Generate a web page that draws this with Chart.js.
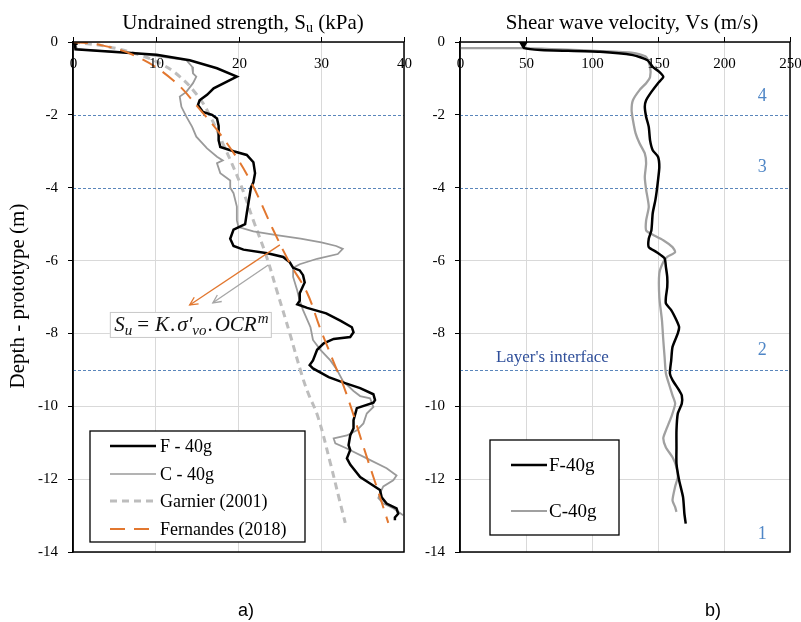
<!DOCTYPE html>
<html><head><meta charset="utf-8">
<script src="https://cdn.jsdelivr.net/npm/chart.js@4.4.1/dist/chart.umd.min.js"></script>
<style>
html,body{margin:0;padding:0;background:#fff;width:801px;height:622px;overflow:hidden;}
canvas{position:absolute;top:0;}
#c1{left:0;}
#c2{left:412px;}
</style></head><body>
<canvas id="c1" width="412" height="622"></canvas>
<canvas id="c2" width="389" height="622"></canvas>
<script>
// ---------- DATA ----------
const depthTicks = [0, -2, -4, -6, -8, -10, -12, -14];
const suTicks = [0, 10, 20, 30, 40];
const vsTicks = [0, 50, 100, 150, 200, 250];
const interfaceDepths = [-2, -4, -9];
const layerNames = ['4', '3', '2', '1'];

// Undrained strength (kPa) vs depth (m)
const suF = [0.2,0.3,10.1,14.1,17.4,19.8,17.0,16.2,15.3,15.1,15.7,16.8,17.4,17.6,17.6,17.8,19.4,21.0,21.8,22.0,21.8,21.5,21.0,20.8,19.4,19.0,19.4,20.6,23.5,25.4,26.2,26.6,27.4,27.8,28.0,27.8,27.4,27.4,27.1,28.3,30.6,32.3,33.7,33.9,33.5,31.5,30.3,29.5,29.0,28.6,29.0,30.9,32.7,34.7,36.3,36.5,36.3,34.3,33.9,33.9,33.5,33.3,33.5,33.1,33.5,34.7,35.9,37.1,37.3,37.9,39.1,39.3,38.9,38.9];
const suFDepth = [0,-0.2,-0.35,-0.5,-0.72,-0.95,-1.27,-1.45,-1.6,-1.73,-1.92,-2.0,-2.1,-2.3,-2.7,-2.88,-3.0,-3.1,-3.3,-3.6,-3.85,-4.0,-4.7,-5.0,-5.15,-5.4,-5.6,-5.7,-5.8,-5.9,-6.05,-6.2,-6.27,-6.4,-6.6,-6.7,-6.9,-7.1,-7.2,-7.3,-7.45,-7.65,-7.83,-7.97,-8.1,-8.15,-8.27,-8.45,-8.74,-8.87,-8.96,-9.2,-9.35,-9.5,-9.67,-9.83,-9.9,-10.05,-10.38,-10.6,-10.8,-11.07,-11.2,-11.43,-11.6,-11.94,-12.12,-12.3,-12.5,-12.67,-12.8,-12.95,-13.05,-13.13];

const suC = [0.2,0.5,7.3,13.7,14.4,14.5,14.9,14.5,13.7,12.9,13.1,13.7,14.4,14.9,16.2,17.4,18.1,17.4,17.8,19.0,19.0,19.4,19.8,19.8,20.0,21.8,24.6,27.5,30.0,31.8,32.6,32.0,29.5,27.4,26.6,26.6,27.1,27.4,27.8,28.7,29.0,29.9,31.1,31.9,32.6,33.9,34.7,35.9,36.3,35.5,35.1,34.3,33.1,31.5,31.7,33.1,35.5,37.9,39.1,38.7,37.5,37.1,36.9,37.5,38.7,39.9];
const suCDepth = [0,-0.2,-0.3,-0.5,-0.68,-0.86,-0.95,-1.13,-1.37,-1.5,-1.78,-2.05,-2.33,-2.6,-2.92,-3.15,-3.25,-3.33,-3.6,-3.8,-4.0,-4.15,-4.52,-4.9,-5.08,-5.2,-5.3,-5.4,-5.5,-5.6,-5.68,-5.82,-5.95,-6.1,-6.2,-6.45,-6.82,-7.1,-7.36,-7.83,-8.18,-8.45,-8.74,-9.0,-9.3,-9.58,-9.72,-9.78,-10.02,-10.2,-10.47,-10.66,-10.8,-10.88,-11.02,-11.16,-11.43,-11.7,-11.9,-12.03,-12.2,-12.38,-12.52,-12.67,-12.8,-12.99];

const suGarnier = [0,4.0,8.1,10.8,12.9,14.8,16.2,18.1,20.2,21.8,23.4,24.6,26.2,27.6,28.4,29.6,31.1,32.2,32.9];
const suGarnierDepth = [0,-0.12,-0.36,-0.62,-0.95,-1.4,-1.87,-2.78,-3.88,-4.9,-5.9,-6.8,-8.0,-9.1,-9.63,-10.29,-11.56,-12.57,-13.2];

const suFernandes = [0,3.3,7.7,12.1,15.4,18.6,21.4,24.2,26.2,28.3,29.8,31.4,33.0,35.5,37.1,38.1];
const suFernandesDepth = [0,-0.08,-0.4,-1.05,-1.87,-2.78,-3.8,-5.16,-6.07,-6.89,-7.82,-8.73,-9.63,-11.39,-12.49,-13.2];

// Shear wave velocity (m/s) vs depth (m)
const vsF = [48,49,61,106,131,142,146,151,154,150,145,141,140,141,143,144,146,150,151,150,149,148,146,145,143,143,149,155,156,157,157,156,156,160,164,166,165,161,160,159,161,166,168,168,165,164,164,164,166,169,170,171];
const vsFDepth = [-0.03,-0.17,-0.22,-0.27,-0.36,-0.5,-0.68,-0.82,-0.96,-1.13,-1.37,-1.6,-1.78,-2.05,-2.33,-2.7,-2.97,-3.15,-3.43,-3.8,-4.1,-4.34,-4.7,-5.17,-5.4,-5.63,-5.77,-5.94,-6.18,-6.45,-6.73,-7.0,-7.18,-7.36,-7.64,-7.83,-8.0,-8.37,-8.74,-9.1,-9.28,-9.56,-9.7,-9.93,-10.2,-10.66,-11.13,-11.57,-12.03,-12.5,-12.95,-13.22];

const vsC = [0,48,106,131,141,144,144,141,136,131,130,131,133,136,140,141,140,141,143,141,141,144,154,161,163,157,154,151,151,153,154,155,156,159,161,163,160,156,154,156,161,164,165,163,161,163,164];
const vsCDepth = [-0.17,-0.17,-0.25,-0.3,-0.41,-0.68,-0.96,-1.13,-1.32,-1.6,-1.87,-2.14,-2.5,-2.78,-3.06,-3.33,-3.71,-4.05,-4.52,-4.9,-5.17,-5.25,-5.44,-5.63,-5.77,-5.9,-6.04,-6.35,-7.0,-7.64,-8.18,-8.65,-9.1,-9.47,-9.7,-9.93,-10.3,-10.66,-10.88,-11.13,-11.4,-11.67,-11.94,-12.2,-12.58,-12.77,-12.9];

// ---------- STYLE / HELPERS ----------
const SERIF = '"Liberation Serif", "Times New Roman", serif';
const SANS = '"Liberation Sans", Arial, sans-serif';
const BLUE_DASH = '#5a86bb';
const COL_F = '#000000', COL_C = '#9a9a9a', COL_G = '#bdbdbd', COL_FE = '#e2772f';

const pts = (xs, ys) => xs.map((v, i) => ({x: v, y: ys[i]}));

function richText(ctx, parts, x, y, align) {
  let total = 0;
  parts.forEach(p => { ctx.font = p.font; total += ctx.measureText(p.t).width + (p.sp || 0); });
  let cx = align === 'center' ? x - total / 2 : x;
  ctx.textAlign = 'left';
  parts.forEach(p => {
    ctx.font = p.font;
    ctx.fillText(p.t, cx, y + (p.dy || 0));
    cx += ctx.measureText(p.t).width + (p.sp || 0);
  });
  return total;
}

function drawInterfaces(chart) {
  const {ctx, chartArea: a, scales: {y}} = chart;
  ctx.save();
  ctx.strokeStyle = BLUE_DASH; ctx.lineWidth = 1; ctx.setLineDash([3, 2]);
  interfaceDepths.forEach(d => {
    const py = Math.round(y.getPixelForValue(d)) + 0.5;
    ctx.beginPath(); ctx.moveTo(a.left, py); ctx.lineTo(a.right, py); ctx.stroke();
  });
  ctx.restore();
}

function drawFrameAndTopAxis(chart, ticks) {
  const {ctx, chartArea: a, scales: {x}} = chart;
  ctx.save();
  ctx.strokeStyle = '#000'; ctx.lineWidth = 1.5;
  ctx.strokeRect(a.left, a.top, a.right - a.left, a.bottom - a.top);
  ctx.lineWidth = 1;
  ctx.fillStyle = '#000';
  ctx.font = '15px ' + SERIF; ctx.textAlign = 'center'; ctx.textBaseline = 'alphabetic';
  ticks.forEach(v => {
    const px = Math.round(x.getPixelForValue(v)) + 0.5;
    ctx.beginPath(); ctx.moveTo(px, a.top); ctx.lineTo(px, a.top - 5); ctx.stroke();
    ctx.fillText(String(v), px, a.top + 26);
  });
  ctx.restore();
}

function legendBox(ctx, x0, y0, w, h, items, lineX0, lineX1, textX, fontSize) {
  ctx.save();
  ctx.fillStyle = '#fff'; ctx.fillRect(x0, y0, w, h);
  ctx.strokeStyle = '#000'; ctx.lineWidth = 1.3; ctx.strokeRect(x0, y0, w, h);
  items.forEach(it => {
    ctx.beginPath();
    ctx.strokeStyle = it.color; ctx.lineWidth = it.width; ctx.setLineDash(it.dash || []);
    ctx.moveTo(lineX0, it.y); ctx.lineTo(lineX1, it.y); ctx.stroke();
    ctx.setLineDash([]);
    ctx.fillStyle = '#000'; ctx.font = fontSize + 'px ' + SERIF;
    ctx.textAlign = 'left'; ctx.textBaseline = 'middle';
    ctx.fillText(it.label, textX, it.y + 1);
  });
  ctx.restore();
}

function arrow(ctx, x0, y0, x1, y1, color) {
  ctx.save();
  ctx.strokeStyle = color; ctx.lineWidth = 1.3;
  ctx.beginPath(); ctx.moveTo(x0, y0); ctx.lineTo(x1, y1); ctx.stroke();
  const ang = Math.atan2(y1 - y0, x1 - x0), L = 9, s = 0.45;
  ctx.beginPath();
  ctx.moveTo(x1 - L * Math.cos(ang - s), y1 - L * Math.sin(ang - s));
  ctx.lineTo(x1, y1);
  ctx.lineTo(x1 - L * Math.cos(ang + s), y1 - L * Math.sin(ang + s));
  ctx.stroke();
  ctx.restore();
}

function yScale(width) {
  return {
    type: 'linear', min: -14, max: 0,
    afterBuildTicks: s => { s.ticks = depthTicks.map(v => ({value: v})); },
    ticks: {font: {family: SERIF, size: 15}, color: '#000', padding: 10},
    grid: {
      color: c => (c.tick && (c.tick.value === -2 || c.tick.value === -4)) ? 'rgba(0,0,0,0)' : '#d9d9d9',
      tickColor: '#000', tickLength: 5, lineWidth: 1
    },
    border: {color: '#000', width: 1.5},
    afterFit: s => { s.width = width; }
  };
}
function xScale(max, ticks) {
  return {
    type: 'linear', position: 'top', min: 0, max: max,
    afterBuildTicks: s => { s.ticks = ticks.map(v => ({value: v})); },
    ticks: {display: false},
    grid: {color: '#d9d9d9', drawTicks: false, lineWidth: 1},
    border: {display: false},
    afterFit: s => { s.height = 0; }
  };
}

Chart.defaults.font.family = SERIF;
Chart.defaults.animation = false;

// ---------- LEFT CHART ----------
const leftDecor = {
  id: 'leftDecor',
  beforeDatasetsDraw(chart) { drawInterfaces(chart); },
  afterDatasetsDraw(chart) {
    const {ctx, scales: {x, y}} = chart;
    arrow(ctx, x.getPixelForValue(25.0), y.getPixelForValue(-5.57), x.getPixelForValue(14.1), y.getPixelForValue(-7.22), '#e2772f');
    arrow(ctx, x.getPixelForValue(23.6), y.getPixelForValue(-6.12), x.getPixelForValue(16.9), y.getPixelForValue(-7.16), '#a6a6a6');
    const bx = x.getPixelForValue(4.45), by = y.getPixelForValue(-7.41);
    const bw = 161, bh = 25;
    ctx.save();
    ctx.fillStyle = '#fff'; ctx.fillRect(bx, by, bw, bh);
    ctx.strokeStyle = '#c8c8c8'; ctx.lineWidth = 1; ctx.strokeRect(bx + 0.5, by + 0.5, bw, bh);
    ctx.fillStyle = '#111'; ctx.textBaseline = 'alphabetic';
    const I = 'italic 21px ' + SERIF, IS = 'italic 15px ' + SERIF, N = '21px ' + SERIF;
    richText(ctx, [
      {t: 'S', font: I}, {t: 'u', font: IS, dy: 4, sp: 5},
      {t: '=', font: N, sp: 6}, {t: 'K', font: I, sp: 1}, {t: '.', font: N, sp: 2},
      {t: 'σ′', font: I}, {t: 'vo', font: IS, dy: 4, sp: 1}, {t: '.', font: N, sp: 2},
      {t: 'OCR', font: I, sp: 1}, {t: 'm', font: IS, dy: -8}
    ], bx + bw / 2 + 1, by + 19, 'center');
    ctx.restore();
    legendBox(ctx, 90, 431, 215, 111, [
      {label: 'F - 40g', color: COL_F, width: 2.5, y: 446},
      {label: 'C - 40g', color: COL_C, width: 1.6, y: 474},
      {label: 'Garnier (2001)', color: COL_G, width: 3, dash: [7, 5], y: 501},
      {label: 'Fernandes (2018)', color: COL_FE, width: 2, dash: [15, 9], y: 529}
    ], 110, 156, 160, 18);
  },
  afterDraw(chart) {
    const {ctx} = chart;
    drawFrameAndTopAxis(chart, suTicks);
    ctx.save();
    ctx.fillStyle = '#000'; ctx.textBaseline = 'alphabetic';
    richText(ctx, [
      {t: 'Undrained strength, S', font: '21px ' + SERIF},
      {t: 'u', font: '14px ' + SERIF, dy: 3},
      {t: ' (kPa)', font: '21px ' + SERIF}
    ], 243, 29, 'center');
    ctx.font = '18px ' + SANS; ctx.textAlign = 'center';
    ctx.fillText('a)', 246, 616);
    ctx.translate(18, 296); ctx.rotate(-Math.PI / 2);
    ctx.font = '21px ' + SERIF; ctx.textAlign = 'center'; ctx.textBaseline = 'middle';
    ctx.fillText('Depth - prototype (m)', 0, 0);
    ctx.restore();
  }
};

new Chart(document.getElementById('c1'), {
  type: 'scatter',
  data: {
    datasets: [
      {label: 'Fernandes (2018)', data: pts(suFernandes, suFernandesDepth), showLine: true, borderColor: COL_FE, borderWidth: 2, borderDash: [15, 9], pointRadius: 0, tension: 0.4, order: 0},
      {label: 'F - 40g', data: pts(suF, suFDepth), showLine: true, borderColor: COL_F, borderWidth: 2.5, pointRadius: c => c.dataIndex === 0 ? 2.5 : 0, pointStyle: 'rect', pointBackgroundColor: '#000', pointBorderColor: '#000', tension: 0, order: 1},
      {label: 'C - 40g', data: pts(suC, suCDepth), showLine: true, borderColor: COL_C, borderWidth: 1.8, pointRadius: 0, tension: 0, order: 2},
      {label: 'Garnier (2001)', data: pts(suGarnier, suGarnierDepth), showLine: true, borderColor: COL_G, borderWidth: 3, borderDash: [7, 5], pointRadius: 0, tension: 0.4, order: 3}
    ]
  },
  options: {
    responsive: false, animation: false,
    layout: {padding: {left: 0, top: 42, right: 8, bottom: 70}},
    plugins: {legend: {display: false}, title: {display: false}, tooltip: {enabled: false}},
    scales: {x: xScale(40, suTicks), y: yScale(73)}
  },
  plugins: [leftDecor]
});

// ---------- RIGHT CHART ----------
const rightDecor = {
  id: 'rightDecor',
  beforeDatasetsDraw(chart) { drawInterfaces(chart); },
  afterDatasetsDraw(chart) {
    const {ctx, scales: {x, y}} = chart;
    ctx.save();
    ctx.fillStyle = '#4f86c6'; ctx.font = '18px ' + SERIF; ctx.textAlign = 'center'; ctx.textBaseline = 'middle';
    const layerPos = [-1.5, -3.45, -8.45, -13.5];
    layerNames.forEach((n, i) => ctx.fillText(n, x.getPixelForValue(229), y.getPixelForValue(layerPos[i])));
    ctx.fillStyle = '#2f4f9a'; ctx.font = '17px ' + SERIF;
    ctx.fillText("Layer's interface", x.getPixelForValue(70), y.getPixelForValue(-8.66));
    ctx.restore();
    legendBox(ctx, 78, 440, 129, 95, [
      {label: 'F-40g', color: COL_F, width: 2.5, y: 465},
      {label: 'C-40g', color: '#a0a0a0', width: 2.2, y: 511}
    ], 99, 135, 137, 19);
  },
  afterDraw(chart) {
    const {ctx} = chart;
    drawFrameAndTopAxis(chart, vsTicks);
    ctx.save();
    ctx.fillStyle = '#000'; ctx.textBaseline = 'alphabetic'; ctx.textAlign = 'center';
    ctx.font = '21px ' + SERIF;
    ctx.fillText('Shear wave velocity, Vs (m/s)', 220, 29);
    ctx.font = '18px ' + SANS;
    ctx.fillText('b)', 301, 616);
    ctx.restore();
  }
};

new Chart(document.getElementById('c2'), {
  type: 'scatter',
  data: {
    datasets: [
      {label: 'F-40g', data: pts(vsF, vsFDepth), showLine: true, borderColor: COL_F, borderWidth: 2.5, pointRadius: c => c.dataIndex === 0 ? 4 : 0, pointStyle: 'triangle', rotation: 180, pointBackgroundColor: '#000', pointBorderColor: '#000', tension: 0.2, order: 0},
      {label: 'C-40g', data: pts(vsC, vsCDepth), showLine: true, borderColor: '#a0a0a0', borderWidth: 2.3, pointRadius: 0, tension: 0.2, order: 1}
    ]
  },
  options: {
    responsive: false, animation: false,
    layout: {padding: {left: 0, top: 42, right: 11, bottom: 70}},
    plugins: {legend: {display: false}, title: {display: false}, tooltip: {enabled: false}},
    scales: {x: xScale(250, vsTicks), y: yScale(48)}
  },
  plugins: [rightDecor]
});
</script>
</body></html>
